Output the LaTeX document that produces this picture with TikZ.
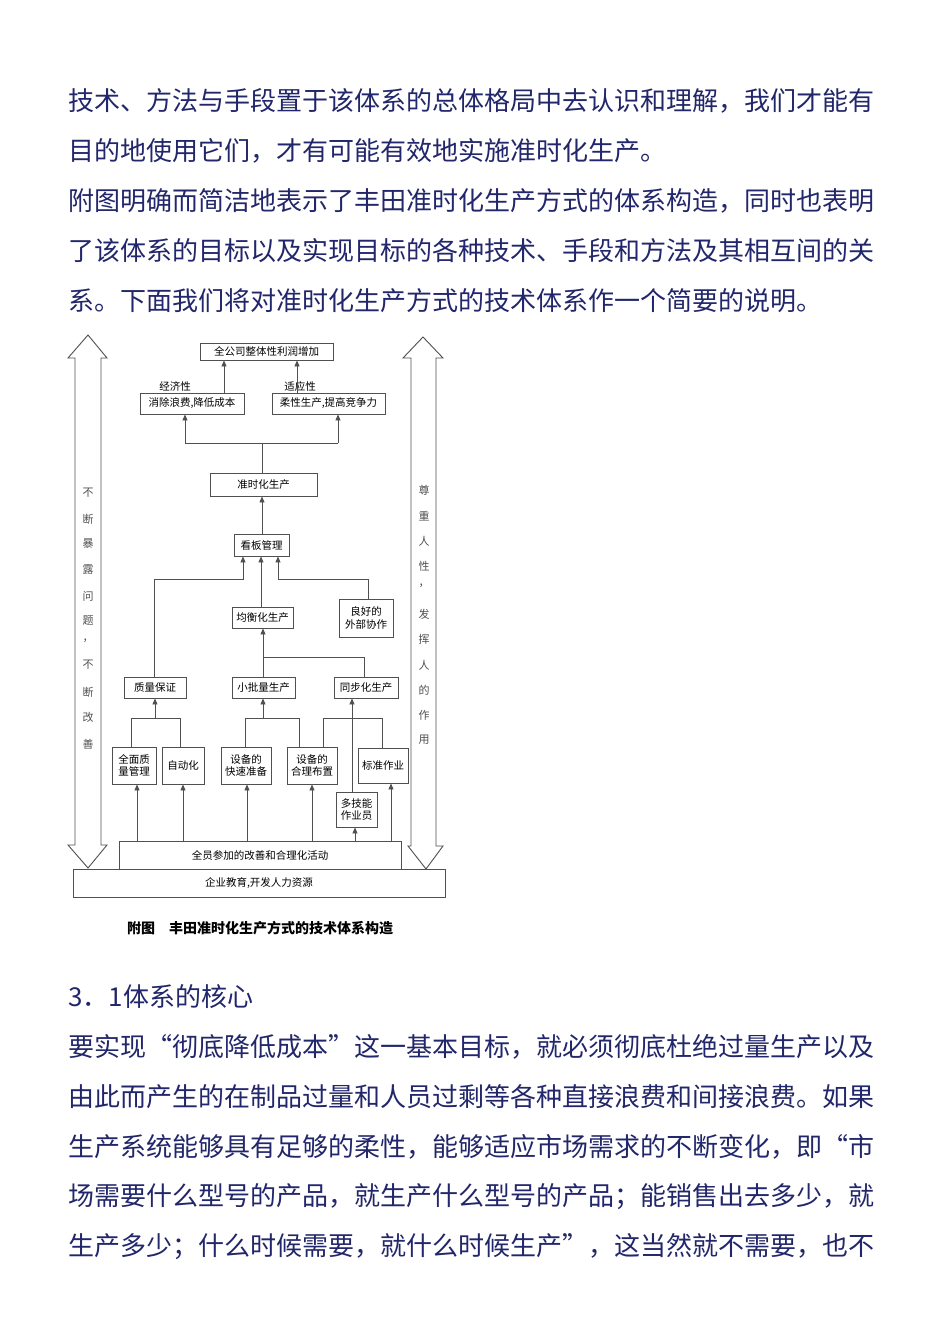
\documentclass[tikz,border=0pt]{standalone}
\usepackage{fontspec}
\setmainfont{Noto Sans CJK SC}
\usetikzlibrary{arrows.meta}
\definecolor{bodyc}{HTML}{22266A}
\definecolor{linec}{HTML}{505050}
\begin{document}
\begin{tikzpicture}[x=1pt,y=-1pt,
 body/.style={anchor=west,inner sep=0pt,text=bodyc,font=\fontsize{26}{30}\selectfont},
 bx/.style={draw=linec,line width=0.9pt,inner sep=0pt,font=\fontsize{10.5}{12.5}\selectfont,align=center},
 ln/.style={draw=linec,line width=0.9pt},
 ar/.style={ln,-{Triangle[length=6pt,width=5pt]}},
 vt/.style={inner sep=0pt,font=\fontsize{11}{13}\selectfont,text=linec},
 big/.style={draw=linec,line width=0.9pt,fill=white}]
\useasboundingbox (0,0) rectangle (950,1344);
\fill[white] (0,0) rectangle (950,1344);
% text
\node[body] (t1) at (68,101) {技术、方法与手段置于该体系的总体格局中去认识和理解，我们才能有};
\node[body] (t2) at (68,151) {目的地使用它们，才有可能有效地实施准时化生产。};
\node[body] (t3) at (68,201) {附图明确而简洁地表示了丰田准时化生产方式的体系构造，同时也表明};
\node[body] (t4) at (68,251) {了该体系的目标以及实现目标的各种技术、手段和方法及其相互间的关};
\node[body] (t5) at (68,301) {系。下面我们将对准时化生产方式的技术体系作一个简要的说明。};
\node[body] (t6) at (68,997) {3．1体系的核心};
\node[body] (t7) at (68,1047) {要实现“彻底降低成本”这一基本目标，就必须彻底杜绝过量生产以及};
\node[body] (t8) at (68,1097) {由此而产生的在制品过量和人员过剩等各种直接浪费和间接浪费。如果};
\node[body] (t9) at (68,1147) {生产系统能够具有足够的柔性，能够适应市场需求的不断变化，即“市};
\node[body] (t10) at (68,1197) {场需要什么型号的产品，就生产什么型号的产品；能销售出去多少，就};
\node[body] (t11) at (68,1247) {生产多少；什么时候需要，就什么时候生产”，这当然就不需要，也不};
% side big arrows
\path[big] (75,358) -- (68,358) -- (88,335) -- (107,358) -- (101,358) -- (101,845) -- (107,845) -- (88,868) -- (68,845) -- (75,845) -- cycle;
\path[big] (411,358) -- (403,358) -- (423,337) -- (443,358) -- (436,358) -- (436,846) -- (443,846) -- (426,869) -- (408,846) -- (411,846) -- cycle;
\foreach \c/\y in {不/493,断/519,暴/544,露/570,问/596,题/621,，/641,不/665,断/692,改/717,善/744}{\node[vt] at (88,\y) {\c};}
\foreach \c/\y in {尊/490,重/516,人/541,性/566,，/586,发/614,挥/639,人/665,的/690,作/715,用/740}{\node[vt] at (424,\y) {\c};}
% boxes
\node[bx,minimum width=133pt,minimum height=17pt] (top) at (266.5,351.5) {全公司整体性利润增加};
\node[inner sep=0pt,font=\fontsize{10.5}{12}\selectfont] (l1) at (175,386) {经济性};
\node[inner sep=0pt,font=\fontsize{10.5}{12}\selectfont] (l2) at (300,386) {适应性};
\node[bx,minimum width=104pt,minimum height=21pt] (eco) at (192,403.5) {消除浪费,降低成本};
\node[bx,minimum width=113pt,minimum height=21pt] (flex) at (328.5,403.5) {柔性生产,提高竞争力};
\node[bx,minimum width=107pt,minimum height=23pt] (jit) at (263.5,484.5) {准时化生产};
\node[bx,minimum width=55pt,minimum height=22pt] (kb) at (261.5,545) {看板管理};
\node[bx,minimum width=61pt,minimum height=21pt] (jh) at (262.5,617.5) {均衡化生产};
\node[bx,minimum width=54pt,minimum height=38pt] (wb) at (366,618) {良好的\\外部协作};
\node[bx,minimum width=62pt,minimum height=21pt] (zl) at (155,687.5) {质量保证};
\node[bx,minimum width=63pt,minimum height=21pt] (xp) at (263.5,687.5) {小批量生产};
\node[bx,minimum width=64pt,minimum height=21pt] (tb) at (366,687.5) {同步化生产};
\node[bx,minimum width=44pt,minimum height=37pt] (qm) at (134,765.5) {全面质\\量管理};
\node[bx,minimum width=42pt,minimum height=37pt] (zd) at (183,765.5) {自动化};
\node[bx,minimum width=50pt,minimum height=37pt] (ks) at (246,765.5) {设备的\\快速准备};
\node[bx,minimum width=50pt,minimum height=37pt] (hl) at (312,765.5) {设备的\\合理布置};
\node[bx,minimum width=50pt,minimum height=35pt] (bz) at (383,765.5) {标准作业};
\node[bx,minimum width=41pt,minimum height=35pt] (dj) at (356.5,809.5) {多技能\\作业员};
\node[bx,minimum width=282pt,minimum height=29pt] (qy) at (260,855.5) {全员参加的改善和合理化活动};
\node[bx,minimum width=372pt,minimum height=28pt,fill=white] (jy) at (259,883) {企业教育,开发人力资源};
\node[inner sep=0pt,font=\bfseries\fontsize{14}{16}\selectfont] (cap) at (260,928) {附图\quad 丰田准时化生产方式的技术体系构造};
% connectors
\draw[ar] (eco.north -| 224,0) -- (top.south -| 224,0);
\draw[ar] (flex.north -| 297,0) -- (top.south -| 297,0);
\draw[ln] (jit.north -| 262,0) -- (262,443);
\draw[ar] (185,443) -- (eco.south -| 185,0);
\draw[ar] (338,443) -- (flex.south -| 338,0);
\draw[ln] (185,443) -- (338,443);
\draw[ar] (kb.north -| 262,0) -- (jit.south -| 262,0);
\draw[ar] (zl.north -| 154,0) -- (154,579) -- (243,579) -- (kb.south -| 243,0);
\draw[ar] (jh.north -| 261,0) -- (kb.south -| 261,0);
\draw[ar] (wb.north -| 368,0) -- (368,579) -- (278,579) -- (kb.south -| 278,0);
\draw[ar] (xp.north -| 263,0) -- (jh.south -| 263,0);
\draw[ln] (263,657) -- (364,657) -- (tb.north -| 364,0);
\draw[ln] (qm.north -| 131,0) -- (131,718) -- (180,718) -- (zd.north -| 180,0);
\draw[ar] (155,718) -- (zl.south -| 155,0);
\draw[ln] (ks.north -| 245,0) -- (245,718) -- (299,718) -- (hl.north -| 299,0);
\draw[ar] (263,718) -- (xp.south -| 263,0);
\draw[ln] (hl.north -| 323,0) -- (323,718) -- (382,718) -- (bz.north -| 382,0);
\draw[ar] (dj.north -| 352,0) -- (tb.south -| 352,0);
\foreach \x/\t in {137/qm,183/zd,247/ks,312/hl,355/dj,391/bz}{\draw[ar] (qy.north -| \x,0) -- (\t.south -| \x,0);}
\end{tikzpicture}
\end{document}
